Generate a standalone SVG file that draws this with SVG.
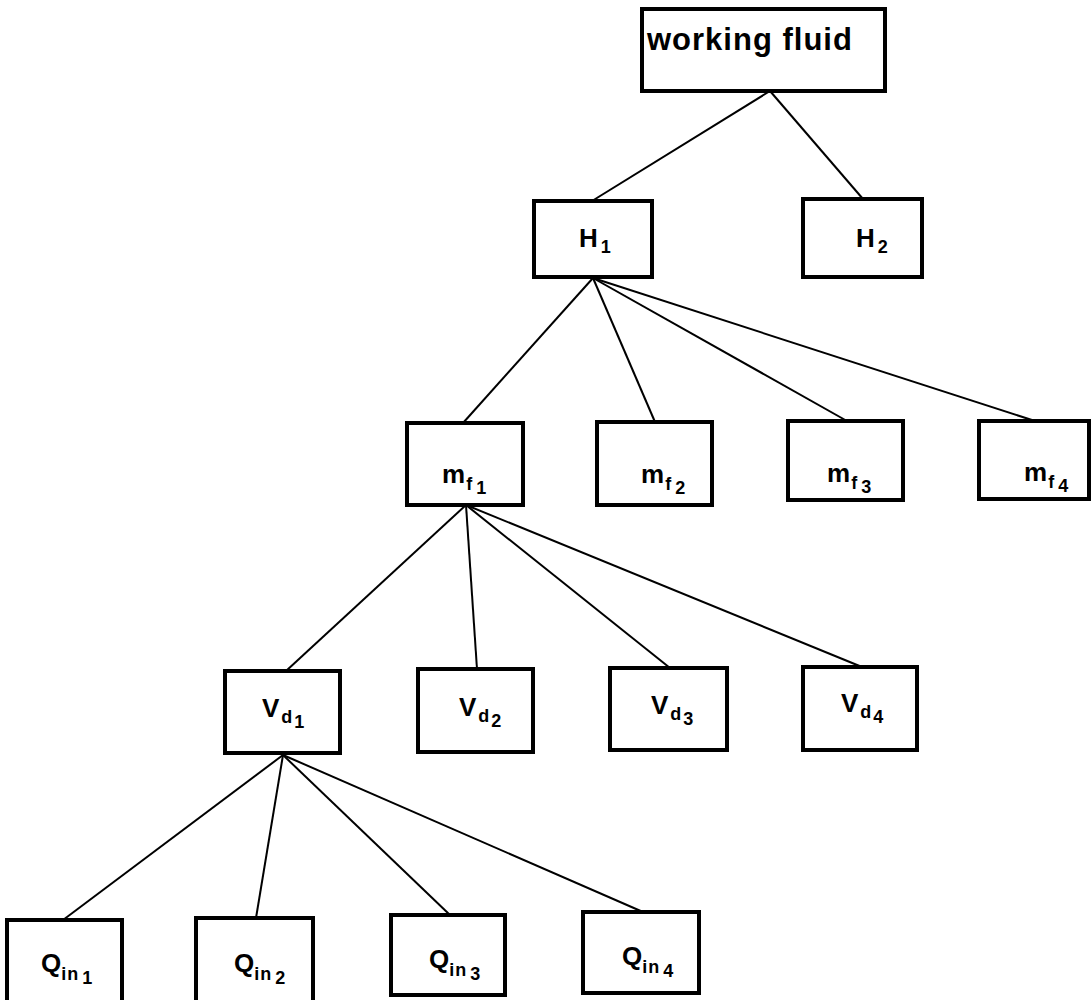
<svg xmlns="http://www.w3.org/2000/svg" width="1092" height="1000" viewBox="0 0 1092 1000">
<style>
.box{fill:#fff;stroke:#000;stroke-width:4}
.edge{stroke:#000;stroke-width:2;fill:none}
.lbl{font-family:"Liberation Sans",Arial,sans-serif;font-weight:bold;font-size:26px;fill:#000}
.s{font-size:18px}
.t{font-family:"Liberation Sans",Arial,sans-serif;font-weight:bold;font-size:31px;letter-spacing:1px;fill:#000}
</style>
<rect width="1092" height="1000" fill="#fff"/>
<g id="connectors">
<line class="edge" x1="770" y1="91" x2="592" y2="201"/>
<line class="edge" x1="770" y1="91" x2="863" y2="199"/>
<line class="edge" x1="593" y1="278" x2="463" y2="423"/>
<line class="edge" x1="593" y1="278" x2="655" y2="422"/>
<line class="edge" x1="593" y1="278" x2="847" y2="421"/>
<line class="edge" x1="593" y1="278" x2="1035" y2="421"/>
<line class="edge" x1="466" y1="505" x2="286" y2="671"/>
<line class="edge" x1="466" y1="505" x2="477" y2="669"/>
<line class="edge" x1="466" y1="505" x2="670" y2="668"/>
<line class="edge" x1="466" y1="505" x2="862" y2="667"/>
<line class="edge" x1="283" y1="755" x2="63" y2="920"/>
<line class="edge" x1="283" y1="755" x2="256" y2="918"/>
<line class="edge" x1="283" y1="755" x2="450" y2="915"/>
<line class="edge" x1="283" y1="755" x2="643" y2="912"/>
</g>
<g id="working-fluid"><rect class="box" x="642" y="9" width="243" height="82"/><text class="t" x="647" y="50">working fluid</text></g>
<g id="H1"><rect class="box" x="534" y="201" width="118" height="76"/><text class="lbl" x="579" y="247">H<tspan class="s" dx="3" dy="6">1</tspan></text></g>
<g id="H2"><rect class="box" x="803" y="199" width="119" height="78"/><text class="lbl" x="856" y="247">H<tspan class="s" dx="3" dy="6">2</tspan></text></g>
<g id="mf1"><rect class="box" x="407" y="423" width="116" height="82"/><text class="lbl" x="442" y="483">m<tspan class="s" dx="1" dy="7">f</tspan><tspan class="s" dx="4" dy="4">1</tspan></text></g>
<g id="mf2"><rect class="box" x="597" y="422" width="115" height="83"/><text class="lbl" x="641" y="483">m<tspan class="s" dx="1" dy="7">f</tspan><tspan class="s" dx="4" dy="4">2</tspan></text></g>
<g id="mf3"><rect class="box" x="788" y="421" width="115" height="79"/><text class="lbl" x="827" y="482">m<tspan class="s" dx="1" dy="7">f</tspan><tspan class="s" dx="4" dy="4">3</tspan></text></g>
<g id="mf4"><rect class="box" x="979" y="421" width="110" height="78"/><text class="lbl" x="1024" y="481">m<tspan class="s" dx="1" dy="7">f</tspan><tspan class="s" dx="4" dy="4">4</tspan></text></g>
<g id="Vd1"><rect class="box" x="225" y="671" width="115" height="82"/><text class="lbl" x="262" y="717">V<tspan class="s" dx="2" dy="6">d</tspan><tspan class="s" dx="2" dy="5">1</tspan></text></g>
<g id="Vd2"><rect class="box" x="418" y="669" width="115" height="83"/><text class="lbl" x="459" y="716">V<tspan class="s" dx="2" dy="6">d</tspan><tspan class="s" dx="2" dy="5">2</tspan></text></g>
<g id="Vd3"><rect class="box" x="610" y="668" width="117" height="82"/><text class="lbl" x="651" y="714">V<tspan class="s" dx="2" dy="6">d</tspan><tspan class="s" dx="2" dy="5">3</tspan></text></g>
<g id="Vd4"><rect class="box" x="803" y="667" width="114" height="83"/><text class="lbl" x="841" y="712">V<tspan class="s" dx="2" dy="6">d</tspan><tspan class="s" dx="2" dy="5">4</tspan></text></g>
<g id="Qin1"><rect class="box" x="7" y="920" width="115" height="82"/><text class="lbl" x="41" y="972">Q<tspan class="s" dx="0" dy="8" letter-spacing="1">in</tspan><tspan class="s" dx="3" dy="4">1</tspan></text></g>
<g id="Qin2"><rect class="box" x="196" y="918" width="117" height="84"/><text class="lbl" x="234" y="972">Q<tspan class="s" dx="0" dy="8" letter-spacing="1">in</tspan><tspan class="s" dx="3" dy="4">2</tspan></text></g>
<g id="Qin3"><rect class="box" x="391" y="915" width="114" height="80"/><text class="lbl" x="429" y="968">Q<tspan class="s" dx="0" dy="8" letter-spacing="1">in</tspan><tspan class="s" dx="3" dy="4">3</tspan></text></g>
<g id="Qin4"><rect class="box" x="583" y="912" width="116" height="81"/><text class="lbl" x="622" y="965">Q<tspan class="s" dx="0" dy="8" letter-spacing="1">in</tspan><tspan class="s" dx="3" dy="4">4</tspan></text></g>
</svg>
